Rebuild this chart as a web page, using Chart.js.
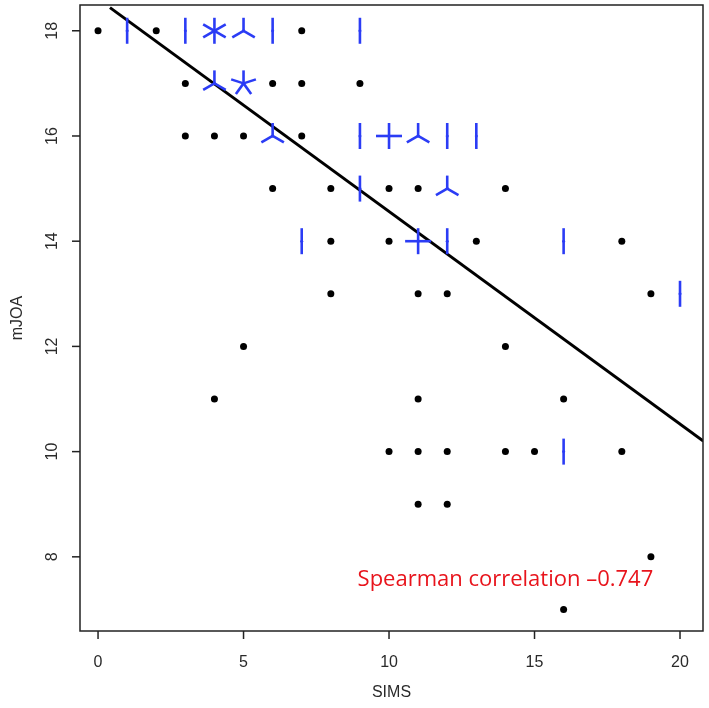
<!DOCTYPE html>
<html><head><meta charset="utf-8">
<script src="https://cdn.jsdelivr.net/npm/chart.js@4/dist/chart.umd.min.js"></script>
<style>html,body{margin:0;background:#fff}#wrap{width:709px;height:708px}</style>
</head><body><div id="wrap"><canvas id="c"></canvas></div>
<script>
// SIMS (x), mJOA (y), number of subjects at that point
const simsX  = [0,1,2,3,4,5,6,7,9, 3,4,5,6,7,9, 3,4,5,6,7,9,10,11,12,13, 6,8,9,10,11,12,14, 7,8,10,11,12,13,16,18, 8,11,12,19,20, 5,14, 4,11,16, 10,11,12,14,15,16,18, 11,12, 19, 16];
const mjoaY  = [18,18,18,18,18,18,18,18,18, 17,17,17,17,17,17, 16,16,16,16,16,16,16,16,16,16, 15,15,15,15,15,15,15, 14,14,14,14,14,14,14,14, 13,13,13,13,13, 12,12, 11,11,11, 10,10,10,10,10,10,10, 9,9, 8, 7];
const counts = [1,2,1,2,6,3,2,1,2, 1,3,5,1,1,1, 1,1,1,3,1,2,4,3,2,2, 1,1,2,1,1,3,1, 2,1,1,4,2,1,2,1, 1,1,1,1,2, 1,1, 1,1,1, 1,1,1,1,1,2,1, 1,1, 1, 1];
const fitX = [0.41, 20.8];
const fitY = [18.44, 10.2];
const xTicks = [0,5,10,15,20];
const yTicks = [8,10,12,14,16,18];
const note = 'Spearman correlation \u20130.747';

const pts = simsX.map((x,i)=>({x, y:mjoaY[i]}));
const petals = {
  id:'petals',
  afterDatasetsDraw(chart){
    const ctx=chart.ctx, meta=chart.getDatasetMeta(0);
    ctx.save();
    ctx.strokeStyle='#2b3cf5'; ctx.lineWidth=2.6; ctx.lineCap='butt';
    meta.data.forEach((el,i)=>{
      const n=counts[i]; if(n<2) return;
      for(let k=0;k<n;k++){
        const a=Math.PI/2+k*2*Math.PI/n;
        ctx.beginPath(); ctx.moveTo(el.x,el.y);
        ctx.lineTo(el.x+13*Math.cos(a), el.y-13*Math.sin(a)); ctx.stroke();
      }
    });
    ctx.restore();
  },
  afterDraw(chart){
    const ctx=chart.ctx, a=chart.chartArea, xs=chart.scales.x, ys=chart.scales.y;
    ctx.save();
    ctx.strokeStyle='#222'; ctx.lineWidth=1.5;
    ctx.strokeRect(a.left,a.top,a.right-a.left,a.bottom-a.top);
    ctx.fillStyle='#2a2a2a'; ctx.font='16px "Liberation Sans", Arial';
    ctx.textAlign='center'; ctx.textBaseline='middle';
    yTicks.forEach(v=>{
      const py=ys.getPixelForValue(v);
      ctx.beginPath(); ctx.moveTo(a.left,py); ctx.lineTo(a.left-8,py); ctx.stroke();
      ctx.save(); ctx.translate(a.left-27,py); ctx.rotate(-Math.PI/2); ctx.fillText(String(v),0,0); ctx.restore();
    });
    xTicks.forEach(v=>{
      const px=xs.getPixelForValue(v);
      ctx.beginPath(); ctx.moveTo(px,a.bottom); ctx.lineTo(px,a.bottom+8); ctx.stroke();
      ctx.fillText(String(v),px,a.bottom+32);
    });
    ctx.fillText('SIMS',(a.left+a.right)/2,a.bottom+62);
    ctx.save(); ctx.translate(18,(a.top+a.bottom)/2); ctx.rotate(-Math.PI/2); ctx.fillText('mJOA',0,0); ctx.restore();
    ctx.fillStyle='#e8141c'; ctx.font='22px "Open Sans", sans-serif';
    ctx.fillText(note, xs.getPixelForValue(14.0), ys.getPixelForValue(7.56));
    ctx.restore();
  }
};

new Chart(document.getElementById('c'),{
  type:'scatter',
  data:{datasets:[
    {data:pts, pointRadius:pts.map((p,i)=>counts[i]>1?1.5:3.5), pointBackgroundColor:pts.map((p,i)=>counts[i]>1?'#2b3cf5':'#000'), pointBorderWidth:0},
    {type:'line', data:fitX.map((x,i)=>({x, y:fitY[i]})), borderColor:'#000', borderWidth:3, pointRadius:0}
  ]},
  plugins:[petals],
  options:{
    responsive:true, maintainAspectRatio:false, animation:false,
    layout:{padding:{top:5,right:6}},
    plugins:{legend:{display:false}, tooltip:{enabled:false}},
    scales:{
      x:{type:'linear', min:-0.62, max:20.79, grid:{display:false}, border:{display:false}, ticks:{display:false},
         afterFit(s){s.height=77;}},
      y:{type:'linear', min:6.59, max:18.49, grid:{display:false}, border:{display:false}, ticks:{display:false},
         afterFit(s){s.width=80;}}
    }
  }
});
</script></body></html>
